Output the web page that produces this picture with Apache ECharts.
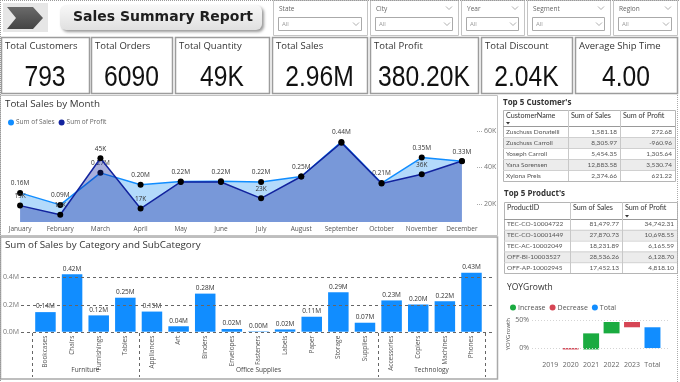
<!DOCTYPE html>
<html><head><meta charset="utf-8">
<script src="https://cdn.jsdelivr.net/npm/echarts@6/dist/echarts.min.js"></script>
<style>html,body{margin:0;padding:0;background:#fff;overflow:hidden}#c{width:680px;height:382px}</style>
</head><body><div id="c"></div>
<script>
// ---------------- DATA ----------------
const months = ['January','February','March','April','May','June','July','August','September','October','November','December'];
const salesM = [0.16,0.094,0.27,0.205,0.222,0.224,0.22,0.25,0.44,0.214,0.354,0.334];
const profitK = [19,14,45,17.4,32,32,23,35,53.6,31.2,36.2,43.5];
const profitLabelShown = [true,true,true,true,false,false,true,false,false,false,true,false];
const profitTicks = [20,40,60];

const kpiLabels = ['Total Customers','Total Orders','Total Quantity','Total Sales','Total Profit','Total Discount','Average Ship Time'];
const kpiValues = ['793','6090','49K','2.96M','380.20K','2.04K','4.00'];

const slicerNames = ['State','City','Year','Segment','Region'];
const slicerValue = 'All';
const reportTitle = 'Sales Summary Report';

const custTitle = "Top 5 Customer's";
const custHeaders = ['CustomerName','Sum of Sales','Sum of Profit'];
const custNames = ['Zuschuss Donatelli','Zuschuss Carroll','Yoseph Carroll','Yana Sorensen','Xylona Preis'];
const custSales = [1581.18,8305.97,5454.35,12883.58,2374.66];
const custProfit = [272.68,-960.96,1305.64,3530.74,621.22];

const prodTitle = "Top 5 Product's";
const prodHeaders = ['ProductID','Sum of Sales','Sum of Profit'];
const prodIds = ['TEC-CO-10004722','TEC-CO-10001449','TEC-AC-10002049','OFF-BI-10003527','OFF-AP-10002945'];
const prodSales = [81479.77,27870.73,18231.89,28536.26,17452.13];
const prodProfit = [34742.31,10698.55,6165.59,6128.70,4818.10];

const categories = ['Furniture','Office Supplies','Technology'];
const subCats = ['Bookcases','Chairs','Furnishings','Tables','Appliances','Art','Binders','Envelopes','Fasteners','Labels','Paper','Storage','Supplies','Accessories','Copiers','Machines','Phones'];
const subCatGroup = [0,0,0,0,1,1,1,1,1,1,1,1,1,2,2,2,2];
const subSalesM = [0.144,0.422,0.12,0.25,0.148,0.04,0.28,0.02,0.003,0.017,0.11,0.29,0.066,0.23,0.20,0.224,0.434];
const salesTicks = [0,0.2,0.4];

const yoyYears = ['2019','2020','2021','2022','2023'];
const yoyGrowth = [0,-2.5,29,20.5,-9.5];
const yoyTicks = [0,50];

// ---------------- HELPERS ----------------
const FONT = '"Segoe UI","Open Sans","Noto Sans",sans-serif';
const TFONT = 'Lato,"Open Sans",sans-serif';
const G = [];
function T(x,y,t,o){o=o||{};G.push({type:'text',x:x,y:y,z:o.z||20,silent:true,rotation:o.rot||0,scaleX:o.scx||1,
  style:{text:t,fill:o.c||'#333',fontSize:o.s||7,fontFamily:o.f||FONT,fontWeight:o.w||'normal',
  textAlign:o.a||'left',textVerticalAlign:'middle',align:o.a||'left',verticalAlign:'middle'}});}
function R(x,y,w,h,o){o=o||{};G.push({type:'rect',z:o.z||1,silent:true,shape:{x:x,y:y,width:w,height:h,r:o.r||0},
  style:{fill:o.fill||'none',stroke:o.stroke||null,lineWidth:o.lw||1,lineDash:o.dash||null,
  shadowBlur:o.sb||0,shadowOffsetX:o.sx||0,shadowOffsetY:o.sy||0,shadowColor:o.sc||'transparent'}});}
function L(x1,y1,x2,y2,o){o=o||{};G.push({type:'line',z:o.z||5,silent:true,shape:{x1:x1,y1:y1,x2:x2,y2:y2},
  style:{stroke:o.c||'#999',lineWidth:o.lw||1,lineDash:o.dash||null}});}
function P(pts,o){o=o||{};G.push({type:o.closed?'polygon':'polyline',z:o.z||5,silent:true,shape:{points:pts},
  style:{fill:o.fill||'none',stroke:o.c||null,lineWidth:o.lw||1}});}
function fmt2(v){return v.toLocaleString('en-US',{minimumFractionDigits:2,maximumFractionDigits:2});}
function chev(x,y,c){P([[x-3,y-1.5],[x,y+1.5],[x+3,y-1.5]],{c:c||'#888',lw:0.8,z:21});}

// page border
L(0.5,0,0.5,382,{c:'#999',dash:[1,1]});
L(0,0.5,680,0.5,{c:'#999',dash:[1,1]});
L(677.5,95,677.5,382,{c:'#aaa',dash:[1,1]});

// header icon + title
R(3,3,45,29,{fill:'#e6e6e6'});
P([[7,7],[33,7],[43,18],[33,29],[7,29],[16,18]],{closed:true,fill:{type:'linear',x:0,y:0,x2:0,y2:1,colorStops:[{offset:0,color:'#6a6a6a'},{offset:1,color:'#444'}]},z:3});
R(60,5,202,25,{r:6,fill:{type:'linear',x:0,y:0,x2:0,y2:1,colorStops:[{offset:0,color:'#f8f8f8'},{offset:1,color:'#e0e0e0'}]},sb:3,sx:2,sy:2,sc:'rgba(0,0,0,0.4)',z:2});
T(163,17.5,reportTitle,{s:14,w:'bold',f:'"DejaVu Sans",sans-serif',a:'center',c:'#1e1e1e'});

// slicers
const slicerX = [[273,367],[370,458],[461,524],[527,610],[613,677]];
slicerNames.forEach((n,i)=>{
  const [a,b]=slicerX[i];
  R(a+0.5,0.5,b-a,35,{stroke:'#c4c4c4'});
  T(a+6,9,n,{s:6.5,c:'#666'});
  R(a+5.5,17.5,b-a-11,13,{stroke:'#aaa'});
  T(a+9,24,slicerValue,{s:6,c:'#999'});
  chev(b-11,24,'#999');
  if(i>0) chev(b-9,8,'#999');
});

// KPI cards
const cardX = [[1,89],[91,172],[175,269],[272,367],[370,478],[481,572],[575,677]];
kpiLabels.forEach((l,i)=>{
  const [a,b]=cardX[i];
  R(a+0.5,37.5,b-a,56,{stroke:'#9c9c9c',lw:1.5,fill:'#fff'});
  T(a+4,46,l,{s:9.5,c:'#333'});
  T((a+b)/2,78,kpiValues[i],{s:29,c:'#111',a:'center',scx:0.85,f:'"Liberation Sans",Arimo,sans-serif'});
});

// panels
R(0.5,95.5,497,140,{stroke:'#c2c2c2'});
T(5,104,'Total Sales by Month',{s:9.8,c:'#333'});
R(0.5,237,497,142,{stroke:'#a9a9a9',lw:1.5});
T(5,245.5,'Sum of Sales by Category and SubCategory',{s:9.8,c:'#333'});
T(507,288,'YOYGrowth',{s:8.5,c:'#333'});

// tables
function table(title,ty,cols,hy,hh,ry,rh,headers,c0,c1,c2,sortCol){
  T(cols[0],ty,title,{s:8,w:'bold',c:'#333'});
  R(cols[0]+0.5,hy+0.5,cols[3]-cols[0],hh+5*rh,{stroke:'#b5b5b5',fill:'#fff',z:2});
  for(let r=0;r<5;r++){
    const y=ry+r*rh;
    if(r%2===1) R(cols[0]+1,y,cols[3]-cols[0]-1,rh,{fill:'#ececec',z:3});
    L(cols[0],y+0.5,cols[3],y+0.5,{c:'#d0d0d0',z:4});
    T(cols[0]+3,y+rh/2,c0[r],{s:6.5,c:'#555',f:TFONT});
    T(cols[2]-3,y+rh/2,fmt2(c1[r]),{s:6.5,c:'#555',f:TFONT,a:'right'});
    T(cols[3]-3,y+rh/2,fmt2(c2[r]),{s:6.5,c:'#555',f:TFONT,a:'right'});
  }
  L(cols[0],hy+hh+0.5,cols[3],hy+hh+0.5,{c:'#999',z:4});
  [1,2].forEach(k=>L(cols[k]+0.5,hy,cols[k]+0.5,ry+5*rh,{c:'#c8c8c8',z:4}));
  headers.forEach((h,k)=>T(cols[k]+3,hy+6,h,{s:7.2,c:'#333',f:TFONT}));
  const sx=cols[sortCol]+5;
  P([[sx-2,hy+hh-4],[sx+2,hy+hh-4],[sx,hy+hh-1.5]],{closed:true,fill:'#333',z:21});
}
table(custTitle,103,[503,568,620,675],110,16,126,11,custHeaders,custNames,custSales,custProfit,0);
table(prodTitle,194,[504,570,622,677],202,17,219,10.8,prodHeaders,prodIds,prodSales,prodProfit,2);

// ---------------- WATERFALL DERIVED ----------------
const wfCats = yoyYears.concat(['Total']);
const wfBase=[],wfInc=[],wfDec=[],wfTot=[];
let cum=0;
yoyGrowth.forEach(v=>{
  if(v>=0){wfBase.push(cum);wfInc.push(v);wfDec.push(0);}
  else{wfBase.push(cum+v);wfInc.push(0);wfDec.push(-v);}
  wfTot.push(0);cum+=v;
});
wfBase.push(0);wfInc.push(0);wfDec.push(0);wfTot.push(cum);

const profitData = profitK.map((v,i)=>({value:v,label:{show:profitLabelShown[i]}}));
const lblStyle = {fontSize:6.5,color:'#333',fontFamily:FONT};

const chart = echarts.init(document.getElementById('c'),null,{renderer:'canvas'});
const option = {
  animation:false,
  textStyle:{fontFamily:FONT},
  legend:[
    {data:[{name:'Sum of Sales',itemStyle:{color:'#118DFF'}},{name:'Sum of Profit',itemStyle:{color:'#12239E'}}],
     left:3,top:114,icon:'circle',itemWidth:6,itemHeight:6,itemGap:4,
     textStyle:{fontSize:6.5,color:'#666',padding:[0,0,0,-3]}},
    {data:['Increase','Decrease','Total'],left:505,top:299,icon:'circle',itemWidth:6,itemHeight:6,itemGap:4,
     textStyle:{fontSize:7,color:'#555',padding:[0,0,0,-3]}}
  ],
  grid:[
    {left:0,top:131,width:482,height:91},
    {left:31.5,top:263.7,width:453.3,height:68},
    {left:540,top:314.8,width:122.7,height:38.8}
  ],
  xAxis:[
    {type:'category',gridIndex:0,data:months,boundaryGap:true,axisLine:{show:false},axisTick:{show:false},
     axisLabel:{fontSize:6.5,color:'#555',margin:4,interval:0}},
    {type:'category',gridIndex:1,data:subCats,axisLine:{show:false},axisTick:{show:false},
     axisLabel:{fontSize:6.5,color:'#555',rotate:90,margin:4,interval:0}},
    {type:'category',gridIndex:2,data:wfCats,axisLine:{show:false},axisTick:{show:false},
     axisLabel:{fontSize:7,color:'#666',margin:8,interval:0}}
  ],
  yAxis:[
    {type:'value',gridIndex:0,min:0,max:0.5,show:false},
    {type:'value',gridIndex:0,position:'right',min:10,max:60,splitLine:{show:false},axisLine:{show:false},
     axisTick:{show:true,inside:true,length:5,customValues:profitTicks,lineStyle:{color:'#aaa',type:'dotted'}},
     axisLabel:{customValues:profitTicks,formatter:v=>v+'K',fontSize:7,color:'#777',margin:2}},
    {type:'value',gridIndex:1,min:0,max:0.5,splitLine:{show:false},axisLine:{show:false},axisTick:{show:false},
     axisLabel:{customValues:salesTicks,formatter:v=>v.toFixed(1)+'M',fontSize:7,color:'#777',margin:13}},
    {type:'value',gridIndex:2,min:-10,max:60,splitLine:{show:false},axisLine:{show:false},axisTick:{show:false},
     axisLabel:{customValues:yoyTicks,formatter:v=>v+'%',fontSize:7,color:'#666',margin:11},
     name:'YOYGrowth',nameLocation:'middle',nameRotate:90,nameGap:27,nameTextStyle:{fontSize:6,color:'#555'}}
  ],
  series:[
    {name:'Sum of Sales',type:'line',xAxisIndex:0,yAxisIndex:0,data:salesM,z:2,
     symbol:'circle',symbolSize:6,itemStyle:{color:'#000'},lineStyle:{color:'#118DFF',width:1.5},
     areaStyle:{color:'#b3dafb',opacity:1},
     label:{show:true,position:'top',distance:3,formatter:p=>p.value.toFixed(2)+'M',...lblStyle}},
    {name:'Sum of Profit',type:'line',xAxisIndex:0,yAxisIndex:1,data:profitData,z:3,
     symbol:'circle',symbolSize:6,itemStyle:{color:'#000'},lineStyle:{color:'#12239E',width:1.5},
     areaStyle:{color:'rgba(18,35,158,0.36)',opacity:1},
     label:{show:true,position:'top',distance:3,formatter:p=>Math.round(p.value)+'K',...lblStyle}},
    {name:'Sales',type:'bar',xAxisIndex:1,yAxisIndex:2,data:subSalesM,barCategoryGap:'23%',
     itemStyle:{color:'#118DFF'},
     label:{show:true,position:'top',distance:2,formatter:p=>p.value.toFixed(2)+'M',...lblStyle}},
    {name:'base',type:'bar',xAxisIndex:2,yAxisIndex:3,stack:'wf',stackStrategy:'all',data:wfBase,
     itemStyle:{color:'transparent'},silent:true,barCategoryGap:'22%'},
    {name:'Increase',type:'bar',xAxisIndex:2,yAxisIndex:3,stack:'wf',stackStrategy:'all',data:wfInc,itemStyle:{color:'#1AAB40'}},
    {name:'Decrease',type:'bar',xAxisIndex:2,yAxisIndex:3,stack:'wf',stackStrategy:'all',data:wfDec,itemStyle:{color:'#D64554'}},
    {name:'Total',type:'bar',xAxisIndex:2,yAxisIndex:3,stack:'wf',stackStrategy:'all',data:wfTot,itemStyle:{color:'#118DFF'}}
  ]
};
chart.setOption(option);

// gridlines & group separators from the library's own scales
salesTicks.forEach(v=>{
  const y=Math.round(chart.convertToPixel({yAxisIndex:2},v))+0.5;
  L(21,y,495,y,{c:'#666',dash:[3,3],z:100});
});
yoyTicks.forEach(v=>{
  const y=Math.round(chart.convertToPixel({yAxisIndex:3},v))+0.5;
  L(532,y,668,y,{c:'#d4d4d4',dash:[1,2],z:0});
});
const cx = subCats.map((c,i)=>chart.convertToPixel({xAxisIndex:1},i));
const step = cx[1]-cx[0];
const bounds=[cx[0]-step/2];
for(let i=1;i<subCats.length;i++) if(subCatGroup[i]!==subCatGroup[i-1]) bounds.push(cx[i]-step/2);
bounds.push(cx[cx.length-1]+step/2);
bounds.forEach(x=>L(Math.round(x)+0.5,333,Math.round(x)+0.5,377,{c:'#666',dash:[3,3],z:100}));
categories.forEach((c,g)=>{
  const idx=subCatGroup.map((v,i)=>v===g?i:-1).filter(i=>i>=0);
  const mid=(cx[idx[0]]+cx[idx[idx.length-1]])/2;
  T(mid,370.5,c,{s:6.5,c:'#444',a:'center'});
});
chart.setOption({graphic:{elements:G}});
</script></body></html>
